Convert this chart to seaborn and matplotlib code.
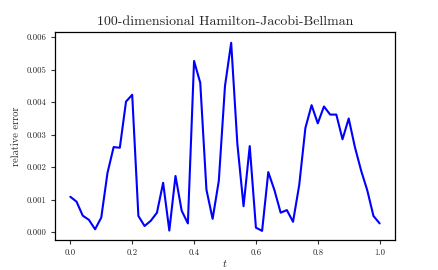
import numpy as np
import pandas as pd
import matplotlib
matplotlib.use("Agg")
import matplotlib.pyplot as plt
import seaborn as sns

# time grid and relative error
t = np.linspace(0, 1, 51)
rel_err = [
    1.09, 0.94, 0.51, 0.38, 0.09, 0.45, 1.82, 2.62, 2.60, 4.02,
    4.23, 0.50, 0.19, 0.35, 0.60, 1.52, 0.05, 1.73, 0.66, 0.27,
    5.27, 4.60, 1.31, 0.41, 1.58, 4.50, 5.83, 2.72, 0.80, 2.65,
    0.14, 0.04, 1.85, 1.29, 0.60, 0.68, 0.32, 1.45, 3.21, 3.91,
    3.35, 3.87, 3.62, 3.62, 2.86, 3.50, 2.62, 1.90, 1.29, 0.50,
    0.27,
]
rel_err = np.array(rel_err) * 1e-3

df = pd.DataFrame({"t": t, "relative error": rel_err})

sns.set_style("ticks")
plt.rcParams["font.family"] = ["cmr10", "DejaVu Serif"]
plt.rcParams["mathtext.fontset"] = "cm"
plt.rcParams["axes.formatter.use_mathtext"] = True

fig, ax = plt.subplots(figsize=(4.39, 2.70), dpi=100)
fig.subplots_adjust(left=0.125, right=0.9, top=0.88, bottom=0.11)

sns.lineplot(data=df, x="t", y="relative error", color="blue", linewidth=1.5, ax=ax)

ax.set_xticks([0.0, 0.2, 0.4, 0.6, 0.8, 1.0])
ax.set_yticks([0.000, 0.001, 0.002, 0.003, 0.004, 0.005, 0.006])
ax.set_xticklabels(["0.0", "0.2", "0.4", "0.6", "0.8", "1.0"])
ax.set_yticklabels(["0.000", "0.001", "0.002", "0.003", "0.004", "0.005", "0.006"])
ax.tick_params(labelsize=6.3, length=3, width=0.8, color="#333333", pad=3)
ax.set_xlim(-0.05, 1.05)
ax.set_ylim(-0.00025, 0.00615)
for s in ax.spines.values():
    s.set_color("black")
    s.set_linewidth(0.9)

ax.set_xlabel("$t$", fontsize=8, labelpad=1)
ax.set_ylabel("relative error", fontsize=7.5, labelpad=4)
ax.set_title("100-dimensional Hamilton-Jacobi-Bellman", fontsize=10, pad=5)

fig.savefig("out.png", dpi=100)
